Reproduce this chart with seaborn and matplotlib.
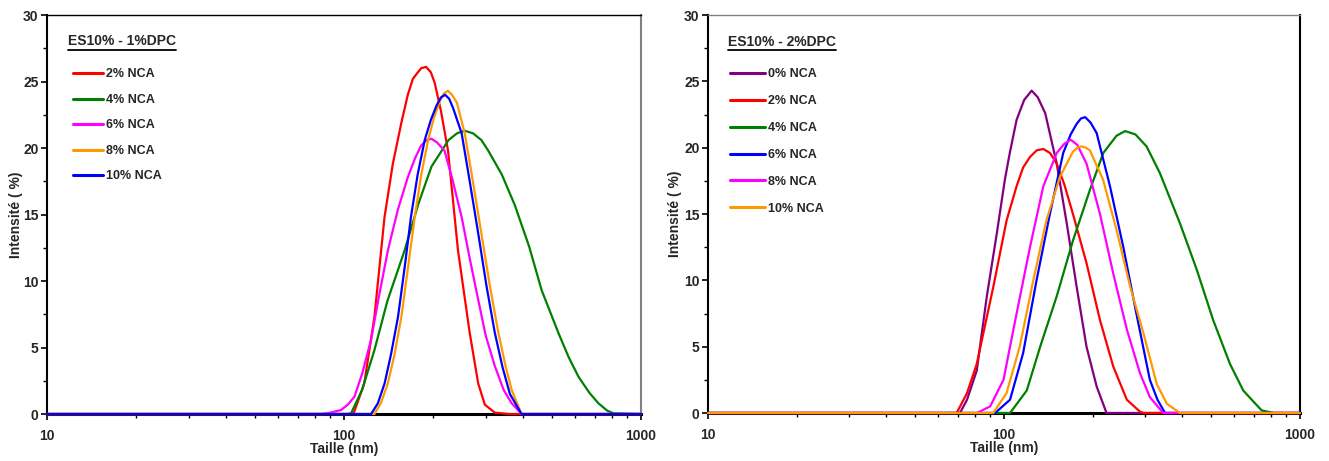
import matplotlib
matplotlib.use("Agg")
import matplotlib.pyplot as plt
from matplotlib.ticker import MultipleLocator, FixedLocator, FixedFormatter, LogLocator, NullFormatter
import seaborn as sns
import pandas as pd

# ---------------- data ----------------
# Left panel: ES10% - 1%DPC
L_labels = ["2% NCA", "4% NCA", "6% NCA", "8% NCA", "10% NCA"]
L_colors = ["#FF0000", "#008000", "#FF00FF", "#FF9900", "#0000FF"]

L2_x = [10, 105, 108, 117, 126.6, 136.9, 146, 156, 164, 170.6, 176, 182, 189, 196, 202, 212, 224, 242, 265, 283, 298, 322, 360, 451, 1000]
L2_y = [0, 0, 0.1, 2.3, 7.3, 14.8, 18.8, 21.9, 24.0, 25.2, 25.6, 26.0, 26.1, 25.7, 24.9, 22.8, 19.8, 12.3, 6.1, 2.3, 0.7, 0.1, 0, 0, 0]

L4_x = [10, 103, 105.6, 115, 126.6, 140, 160, 178, 197, 225, 240, 255, 272, 290, 306, 340, 376, 420, 463, 527, 570, 616, 670, 719, 770, 809, 1000]
L4_y = [0, 0, 0.05, 1.8, 4.8, 8.5, 12.3, 15.8, 18.6, 20.6, 21.1, 21.3, 21.1, 20.6, 19.8, 18.0, 15.7, 12.6, 9.3, 6.1, 4.3, 2.8, 1.6, 0.8, 0.25, 0.05, 0]

L6_x = [10, 83.6, 90, 97.7, 103, 108.4, 115, 123.4, 131, 140.5, 152, 164, 174, 182, 190, 197, 206, 218, 232, 249, 265, 283, 300, 322, 345, 367, 396, 1000]
L6_y = [0, 0, 0.1, 0.3, 0.7, 1.3, 3.0, 5.6, 8.8, 12.3, 15.4, 17.8, 19.3, 20.2, 20.6, 20.7, 20.4, 19.8, 17.6, 14.8, 11.7, 8.6, 5.9, 3.6, 1.8, 0.8, 0, 0]

L8_x = [10, 126.6, 133, 140.5, 148, 156, 164, 173, 182, 192, 201, 210, 217, 224, 231, 240, 255, 272, 290, 310, 331, 350, 367, 396, 1000]
L8_y = [0, 0, 0.8, 2.3, 4.5, 7.3, 10.9, 14.8, 18.0, 20.6, 22.3, 23.5, 24.1, 24.3, 24.0, 23.4, 21.1, 17.4, 13.6, 9.6, 6.1, 3.6, 1.8, 0, 0]

L10_x = [10, 123.4, 130, 137, 144, 152, 160, 168, 177, 187, 196, 205, 212, 219, 226, 233, 249, 265, 283, 302, 322, 342, 362, 396, 1000]
L10_y = [0, 0, 0.8, 2.3, 4.5, 7.3, 11.0, 14.8, 18.0, 20.6, 22.1, 23.2, 23.8, 24.0, 23.7, 23.0, 21.1, 17.5, 13.6, 9.6, 6.1, 3.5, 1.5, 0, 0]

# Right panel: ES10% - 2%DPC
R_labels = ["0% NCA", "2% NCA", "4% NCA", "6% NCA", "8% NCA", "10% NCA"]
R_colors = ["#800080", "#FF0000", "#008000", "#0000FF", "#FF00FF", "#FF9900"]

R0_x = [10, 71, 75, 80.9, 87.5, 94.5, 100.7, 104.6, 110.3, 117, 124, 130, 137.8, 150.7, 162.9, 176, 190, 205.6, 222, 1000]
R0_y = [0, 0, 1.0, 3.2, 8.8, 13.5, 17.6, 19.6, 22.1, 23.6, 24.3, 23.8, 22.6, 18.8, 14.3, 9.5, 5.0, 2.0, 0, 0]

R2_x = [10, 69.2, 75, 80.9, 92, 102, 110.3, 116, 122.4, 129, 135.8, 143, 150.7, 160, 171, 190, 211, 234, 260, 288, 296, 1000]
R2_y = [0, 0, 1.5, 3.7, 9.5, 14.5, 17.1, 18.5, 19.3, 19.8, 19.9, 19.6, 18.8, 17.2, 15.0, 11.3, 7.0, 3.5, 1.0, 0.1, 0, 0]

R4_x = [10, 104.8, 119.4, 132.5, 150.7, 171, 195, 216.5, 240, 256.6, 278, 303, 336, 393, 448, 509, 580, 643, 700, 742, 813, 1000]
R4_y = [0, 0, 1.7, 5.0, 8.8, 13.0, 16.8, 19.6, 20.9, 21.25, 21.0, 20.1, 18.1, 14.3, 10.8, 7.0, 3.7, 1.7, 0.8, 0.2, 0, 0]

R6_x = [10, 93.3, 104.8, 116, 128.8, 142.9, 158.5, 168, 176, 182, 188, 196, 205.6, 228, 253, 280, 311, 330, 350, 1000]
R6_y = [0, 0, 1.0, 4.5, 10.0, 15.0, 19.6, 21.0, 21.8, 22.2, 22.3, 21.9, 21.1, 17.1, 12.5, 7.5, 2.5, 1.0, 0, 0]

R8_x = [10, 81, 89.8, 99.6, 110.3, 122.4, 135.8, 150.7, 160, 168, 177, 190, 211, 234, 260, 288, 311, 345, 1000]
R8_y = [0, 0, 0.5, 2.5, 7.5, 12.5, 17.1, 19.6, 20.3, 20.6, 20.2, 18.8, 15.0, 10.5, 6.3, 3.0, 1.2, 0, 0]

R10_x = [10, 92, 102, 113, 125.6, 139, 154.5, 171, 177, 183, 189, 195, 216, 240, 267, 296, 328, 355, 393, 1000]
R10_y = [0, 0, 1.5, 5.0, 10.0, 14.5, 17.8, 19.7, 20.0, 20.1, 20.0, 19.8, 17.6, 13.8, 9.5, 6.0, 2.2, 0.7, 0, 0]

L_series = [(L2_x, L2_y), (L4_x, L4_y), (L6_x, L6_y), (L8_x, L8_y), (L10_x, L10_y)]
R_series = [(R0_x, R0_y), (R2_x, R2_y), (R4_x, R4_y), (R6_x, R6_y), (R8_x, R8_y), (R10_x, R10_y)]

x_ticks = [10, 100, 1000]
x_ticklabels = ["10", "100", "1000"]
y_ticks = [0, 5, 10, 15, 20, 25, 30]

# ---------------- style ----------------
sns.set_style("ticks")
plt.rcParams["font.family"] = ["Liberation Sans", "DejaVu Sans"]
plt.rcParams["font.weight"] = "bold"


def make_df(series, labels):
    frames = []
    for (xs, ys), lab in zip(series, labels):
        frames.append(pd.DataFrame({"Taille": xs, "Intensite": ys, "serie": lab}))
    return pd.concat(frames, ignore_index=True)


fig = plt.figure(figsize=(13.29, 4.61), dpi=100)
W, H = 1329.0, 461.0
axL = fig.add_axes([47 / W, (H - 414) / H, 594 / W, 399 / H])
axR = fig.add_axes([708 / W, (H - 413) / H, 592 / W, 398 / H])


def draw_panel(ax, series, labels, colors, title, leg_top, leg_x, hl, lsp, title_xy, underline_y, ylab_x, right_spine_color, top_spine_color):
    df = make_df(series, labels)
    sns.lineplot(data=df, x="Taille", y="Intensite", hue="serie", hue_order=labels,
                 palette=dict(zip(labels, colors)), estimator=None, sort=False,
                 linewidth=1.6, legend=False, ax=ax)
    for ln in ax.get_lines():
        ln.set_clip_on(False)
        ln.set_zorder(3)
    ax.set_xscale("log")
    ax.set_xlim(10, 1000)
    ax.set_ylim(0, 30)
    ax.xaxis.set_major_locator(FixedLocator(x_ticks))
    ax.xaxis.set_major_formatter(FixedFormatter(x_ticklabels))
    ax.xaxis.set_minor_locator(LogLocator(base=10, subs=range(2, 10)))
    ax.xaxis.set_minor_formatter(NullFormatter())
    ax.yaxis.set_major_locator(FixedLocator(y_ticks))
    ax.yaxis.set_minor_locator(MultipleLocator(2.5))
    ax.tick_params(axis="both", which="major", direction="out", length=4, width=1.2,
                   labelsize=10, color="black", pad=2)
    ax.tick_params(axis="x", which="major", pad=7)
    ax.tick_params(axis="both", which="minor", direction="out", length=3, width=1.0, color="black")
    for t in ax.get_xticklabels() + ax.get_yticklabels():
        t.set_fontweight("bold")
    ax.spines["left"].set_color("black")
    ax.spines["left"].set_linewidth(1.5)
    ax.spines["bottom"].set_color("black")
    ax.spines["bottom"].set_linewidth(2.2)
    ax.spines["top"].set_color(top_spine_color)
    ax.spines["top"].set_linewidth(1.0)
    ax.spines["right"].set_color(right_spine_color)
    ax.spines["right"].set_linewidth(1.5)
    ax.set_xlabel("Taille (nm)", fontsize=10, fontweight="bold")
    ax.set_ylabel("Intensité ( %)", fontsize=10, fontweight="bold")
    ax.xaxis.set_label_coords(0.5, -0.071)
    ax.yaxis.set_label_coords(ylab_x, 0.5)

    handles = list(ax.get_lines())[:len(labels)]
    leg = ax.legend(handles, labels, loc="upper left", bbox_to_anchor=(leg_x, leg_top),
                    frameon=False, borderpad=0, borderaxespad=0, handlelength=hl,
                    handletextpad=0.2, labelspacing=lsp,
                    prop={"size": 9, "weight": "bold", "family": ["Liberation Sans", "DejaVu Sans"]})
    for lh in leg.get_lines():
        lh.set_linewidth(2.2)

    t = ax.text(title_xy[0], title_xy[1], title, transform=ax.transAxes, ha="left", va="center",
                fontsize=10, fontweight="bold")
    fig.canvas.draw()
    bb = t.get_window_extent().transformed(ax.transAxes.inverted())
    ax.plot([bb.x0, bb.x1], [underline_y, underline_y], transform=ax.transAxes,
            color="black", linewidth=1.3, clip_on=False)


draw_panel(axL, L_series, L_labels, L_colors, "ES10% - 1%DPC",
           leg_top=0.866, leg_x=0.0440, hl=2.4, lsp=1.08,
           title_xy=(0.0354, 0.935), underline_y=0.913, ylab_x=-0.040,
           right_spine_color="#808080", top_spine_color="black")
draw_panel(axR, R_series, R_labels, R_colors, "ES10% - 2%DPC",
           leg_top=0.866, leg_x=0.0380, hl=2.8, lsp=1.19,
           title_xy=(0.0338, 0.933), underline_y=0.911, ylab_x=-0.044,
           right_spine_color="black", top_spine_color="#808080")

fig.savefig("out.png", dpi=100)
